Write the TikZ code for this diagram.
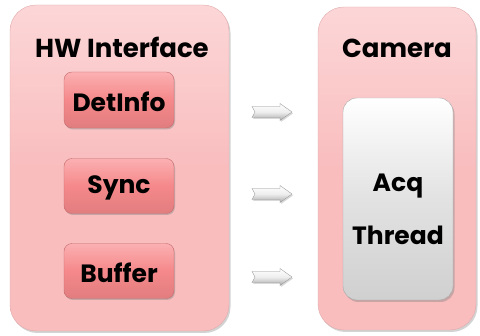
\documentclass[tikz,border=0pt]{standalone}
\usepackage{fontspec}
\setmainfont{Poppins}
\usetikzlibrary{shadows,shadings,calc}
\definecolor{panelpink}{RGB}{249,189,190}
\definecolor{paneltop}{RGB}{252,214,215}
\definecolor{btnpink}{RGB}{245,136,138}
\definecolor{btntop}{RGB}{251,176,178}
\definecolor{acqgray}{RGB}{226,226,226}
\definecolor{arrowgray}{RGB}{170,170,170}
\tikzset{
  panel/.style={rounded corners=26pt, top color=paneltop, bottom color=panelpink,
    middle color=panelpink, draw=panelpink!90!black, line width=0.4pt,
    drop shadow={shadow xshift=1.5pt, shadow yshift=-2pt, opacity=0.35}},
  btn/.style={rounded corners=8pt, top color=btntop, bottom color=btnpink!92!black,
    middle color=btnpink, draw=btnpink!80!black, line width=0.4pt,
    drop shadow={shadow xshift=1pt, shadow yshift=-1.5pt, opacity=0.4}},
  acq/.style={rounded corners=14pt, top color=white, bottom color=acqgray!92!black,
    middle color=acqgray, draw=acqgray!75!black, line width=0.4pt,
    drop shadow={shadow xshift=1.5pt, shadow yshift=-2pt, opacity=0.4}},
  flow/.style={top color=white, bottom color=arrowgray, middle color=white!80!arrowgray,
    draw=arrowgray!85!black, line width=0.3pt, line join=miter,
    drop shadow={shadow xshift=1pt, shadow yshift=-1.5pt, opacity=0.3}},
  title/.style={font=\bfseries\fontsize{26}{30}\selectfont},
  lbl/.style={font=\bfseries\fontsize{25}{30}\selectfont},
}
% a flat block arrow whose left end is the given coordinate
\newcommand{\flowarrow}[1]{%
  \path[flow] ($(#1)+(0,-5.5)$) -- ++(28,0) -- ++(0,-3) -- ++(12,8.5)
    -- ++(-12,8.5) -- ++(0,-3) -- ++(-28,0) -- ++(3,-5.5) -- cycle;}
\begin{document}
\begin{tikzpicture}[x=1pt,y=-1pt]
\useasboundingbox (0,0) rectangle (480,336);
% panels
\path[panel] (10,5) rectangle (229,331);
\path[panel] (318,7) rectangle (476,330);
\node[title] (hw) at (122,47) {HW Interface};
\node[title] (cam) at (397,48) {Camera};
% buttons on the interface panel
\node[btn, minimum width=110pt, minimum height=56pt, inner sep=0pt] (det) at (119,100) {};
\node[lbl] at ($(det)+(0,2)$) {DetInfo};
\node[btn, minimum width=110pt, minimum height=55pt, inner sep=0pt] (sync) at (119,186) {};
\node[lbl] at ($(sync)+(0,2)$) {Sync};
\node[btn, minimum width=110pt, minimum height=55pt, inner sep=0pt] (buf) at (119,271) {};
\node[lbl] at ($(buf)+(0,2)$) {Buffer};
% acquisition thread
\node[acq, minimum width=110pt, minimum height=202pt, inner sep=0pt] (thr) at (398,199) {};
\node[lbl] (acqA) at (398,186) {Acq};
\node[lbl] (acqB) at (398,235) {Thread};
% flow arrows
\coordinate (f1) at (252,112);
\coordinate (f2) at (252,194);
\coordinate (f3) at (252,277);
\flowarrow{f1}
\flowarrow{f2}
\flowarrow{f3}
\end{tikzpicture}
\end{document}
